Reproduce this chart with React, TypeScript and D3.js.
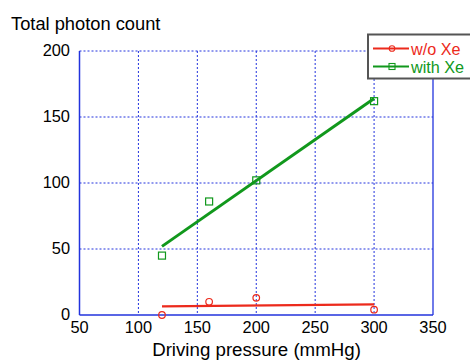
import React from "react";
import * as d3 from "d3";

const pressures = [120, 160, 200, 300];
const withoutXe = [0, 10, 13, 4];
const withXe = [45, 86, 102, 162];
const fitX = [120, 300];
const fitWithout = [6.5, 8];
const fitWith = [52, 164];
const xTicks = [50, 100, 150, 200, 250, 300, 350];
const yTicks = [0, 50, 100, 150, 200];

const W = 470, H = 363;
const M = { left: 79.5, right: 433, top: 51, bottom: 315 };
const RED = "#ec2a1c";
const GREEN = "#11981c";
const BLUE = "#2233dd";
const FONT = "Liberation Sans, Arial, sans-serif";

export default function App() {
  const x = d3.scaleLinear().domain([50, 350]).range([M.left, M.right]);
  const y = d3.scaleLinear().domain([0, 200]).range([M.bottom, M.top]);
  const line = d3.line<[number, number]>().x(d => x(d[0])).y(d => y(d[1]));
  const fitR: [number, number][] = fitX.map((v, i) => [v, fitWithout[i]]);
  const fitG: [number, number][] = fitX.map((v, i) => [v, fitWith[i]]);
  return (
    <svg width={W} height={H} style={{ position: "absolute", left: 0, top: 0, background: "#fff" }} fontFamily={FONT}>
      {/* grid */}
      {xTicks.slice(1, -1).map(t => (
        <line key={"gx" + t} x1={x(t)} x2={x(t)} y1={M.top} y2={M.bottom} stroke={BLUE} strokeWidth={1} strokeDasharray="2,2" />
      ))}
      {yTicks.slice(1, -1).map(t => (
        <line key={"gy" + t} x1={M.left} x2={M.right} y1={y(t)} y2={y(t)} stroke={BLUE} strokeWidth={1} strokeDasharray="2,2" />
      ))}
      <line x1={M.left} x2={M.right} y1={y(200)} y2={y(200)} stroke={BLUE} strokeWidth={1} strokeDasharray="2,2" />
      <line x1={x(350)} x2={x(350)} y1={M.top} y2={M.bottom} stroke={BLUE} strokeWidth={1.3} />
      {/* axes */}
      <line x1={M.left} x2={M.right} y1={M.bottom} y2={M.bottom} stroke={BLUE} strokeWidth={1.5} />
      <line x1={M.left} x2={M.left} y1={M.top} y2={M.bottom} stroke={BLUE} strokeWidth={1.5} />
      {/* tick labels */}
      {xTicks.map(t => (
        <text key={"tx" + t} x={x(t)} y={333} fontSize={16.4} textAnchor="middle" fill="#000">{t}</text>
      ))}
      {yTicks.map(t => (
        <text key={"ty" + t} x={70} y={y(t) + 4.5} fontSize={16.4} textAnchor="end" fill="#000">{t}</text>
      ))}
      <text x={11} y={30} fontSize={18.3} fill="#000">Total photon count</text>
      <text x={256.5} y={356} fontSize={18.7} textAnchor="middle" fill="#000">Driving pressure (mmHg)</text>
      {/* fits */}
      <path d={line(fitR) || ""} stroke={RED} strokeWidth={2.2} fill="none" />
      <path d={line(fitG) || ""} stroke={GREEN} strokeWidth={3} fill="none" />
      {/* markers */}
      {pressures.map((p, i) => (
        <circle key={"r" + i} cx={x(p)} cy={y(withoutXe[i])} r={3.3} fill="none" stroke={RED} strokeWidth={1.2} />
      ))}
      {pressures.map((p, i) => (
        <rect key={"g" + i} x={x(p) - 3.5} y={y(withXe[i]) - 3.5} width={7} height={7} fill="none" stroke={GREEN} strokeWidth={1.2} />
      ))}
      {/* legend */}
      <rect x={368} y={34.5} width={110} height={44} fill="#fff" stroke="#555" strokeWidth={2} />
      <line x1={373} x2={409} y1={48.5} y2={48.5} stroke={RED} strokeWidth={2} />
      <circle cx={392} cy={48.5} r={2.8} fill="none" stroke={RED} strokeWidth={1.1} />
      <text x={411} y={55} fontSize={16.2} fill={RED}>w/o Xe</text>
      <line x1={373} x2={409} y1={66.5} y2={66.5} stroke={GREEN} strokeWidth={2} />
      <rect x={389} y={63.5} width={6} height={6} fill="none" stroke={GREEN} strokeWidth={1.1} />
      <text x={411} y={73} fontSize={16.2} fill={GREEN}>with Xe</text>
    </svg>
  );
}
